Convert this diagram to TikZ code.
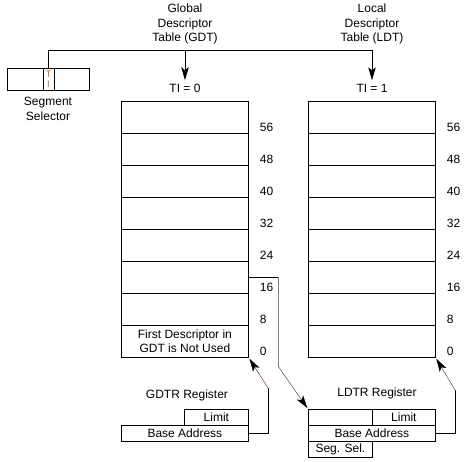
\documentclass[tikz,border=0pt]{standalone}
\usepackage{fontspec}
\setmainfont{Liberation Sans}
\usetikzlibrary{positioning,arrows.meta}
\definecolor{tiorange}{RGB}{196,104,32}
\definecolor{ptrbrown}{RGB}{120,62,50}

\begin{document}
\begin{tikzpicture}[x=1pt, y=-1pt, font=\fontsize{12}{14.5}\selectfont,
    slot/.style={draw, line width=0.8pt, minimum width=127pt, minimum height=32pt, inner sep=0pt, anchor=north west},
    reg/.style={draw, line width=0.8pt, minimum height=16pt, inner sep=0pt, anchor=north west},
    ptr/.style={line width=0.8pt, -{Stealth[length=13pt, width=7.5pt, inset=3pt]}},
    thinptr/.style={line width=0.5pt, ptrbrown, shorten >=1pt, -{Stealth[length=13pt, width=7.5pt, inset=3pt, black]}}]
    \useasboundingbox (0,0) rectangle (465,462);

    \node[align=center] (gdtname) at (185,24) {Global\\Descriptor\\Table (GDT)};
    \node[align=center] (ldtname) at (372,24) {Local\\Descriptor\\Table (LDT)};
    \node (ti0) at (185,88) {TI = 0};
    \node (ti1) at (372,88) {TI = 1};

    \node[draw, line width=0.8pt, minimum width=82pt, minimum height=22pt, inner sep=0pt] (sel) at (48,79) {};
    \node[draw, line width=0.8pt, minimum width=11pt, minimum height=22pt, inner sep=0pt, align=center,
          text=tiorange, font=\fontsize{9.5}{10}\selectfont] (ti) at (48.5,79) {T\\I};
    \node[align=center] (selname) at (48,109) {Segment\\Selector};

    \foreach \i/\v in {1/56,2/48,3/40,4/32,5/24,6/16,7/8,8/0} {
        \pgfmathsetmacro{\y}{101+32*(\i-1)}
        \node[slot] (G\i) at (121,\y) {};
        \node[anchor=base west] (GL\i) at ([xshift=7.5pt,yshift=2pt]G\i.south east) {\v};
        \node[slot] (L\i) at (308,\y) {};
        \node[anchor=base west] (LL\i) at ([xshift=7.5pt,yshift=2pt]L\i.south east) {\v};
    }
    \node[align=center] (unused) at (G8.center) {First Descriptor in\\GDT is Not Used};

    \coordinate (bus) at (372,50);
    \draw[ptr] (ti.north) |- (bus) -- (ti1.north);
    \draw[ptr] (ti0.north |- bus) -- (ti0.north);

    \node (gdtrname) at (187,395) {GDTR Register};
    \node[reg, minimum width=64pt] (glimit) at (184,409) {Limit};
    \node[reg, minimum width=127pt] (gbase) at (121,425) {Base Address};

    \node (ldtrname) at (377,393) {LDTR Register};
    \node[reg, minimum width=64pt] (lblank) at (308,409) {};
    \node[reg, minimum width=63pt] (llimit) at (372,409) {Limit};
    \node[reg, minimum width=127pt] (lbase) at (308,425) {Base Address};
    \node[reg, minimum width=64pt] (lsel) at (308,441) {Seg. Sel.};

    \coordinate (gup) at (268,388);
    \draw[line width=0.8pt] (gbase.east) -| (gup);
    \draw[thinptr] (gup) -- (G8.south east);

    \coordinate (drop) at (278,366);
    \draw[line width=0.8pt] (G6.east) -- (G6.east -| drop);
    \draw[gray, line width=0.6pt] (G6.east -| drop) -- (drop);
    \draw[thinptr] (drop) -- (lblank.north west);

    \coordinate (lup) at (455,390);
    \draw[line width=0.8pt] (lbase.east) -| (lup);
    \draw[thinptr] (lup) -- (L8.south east);
\end{tikzpicture}
\end{document}
